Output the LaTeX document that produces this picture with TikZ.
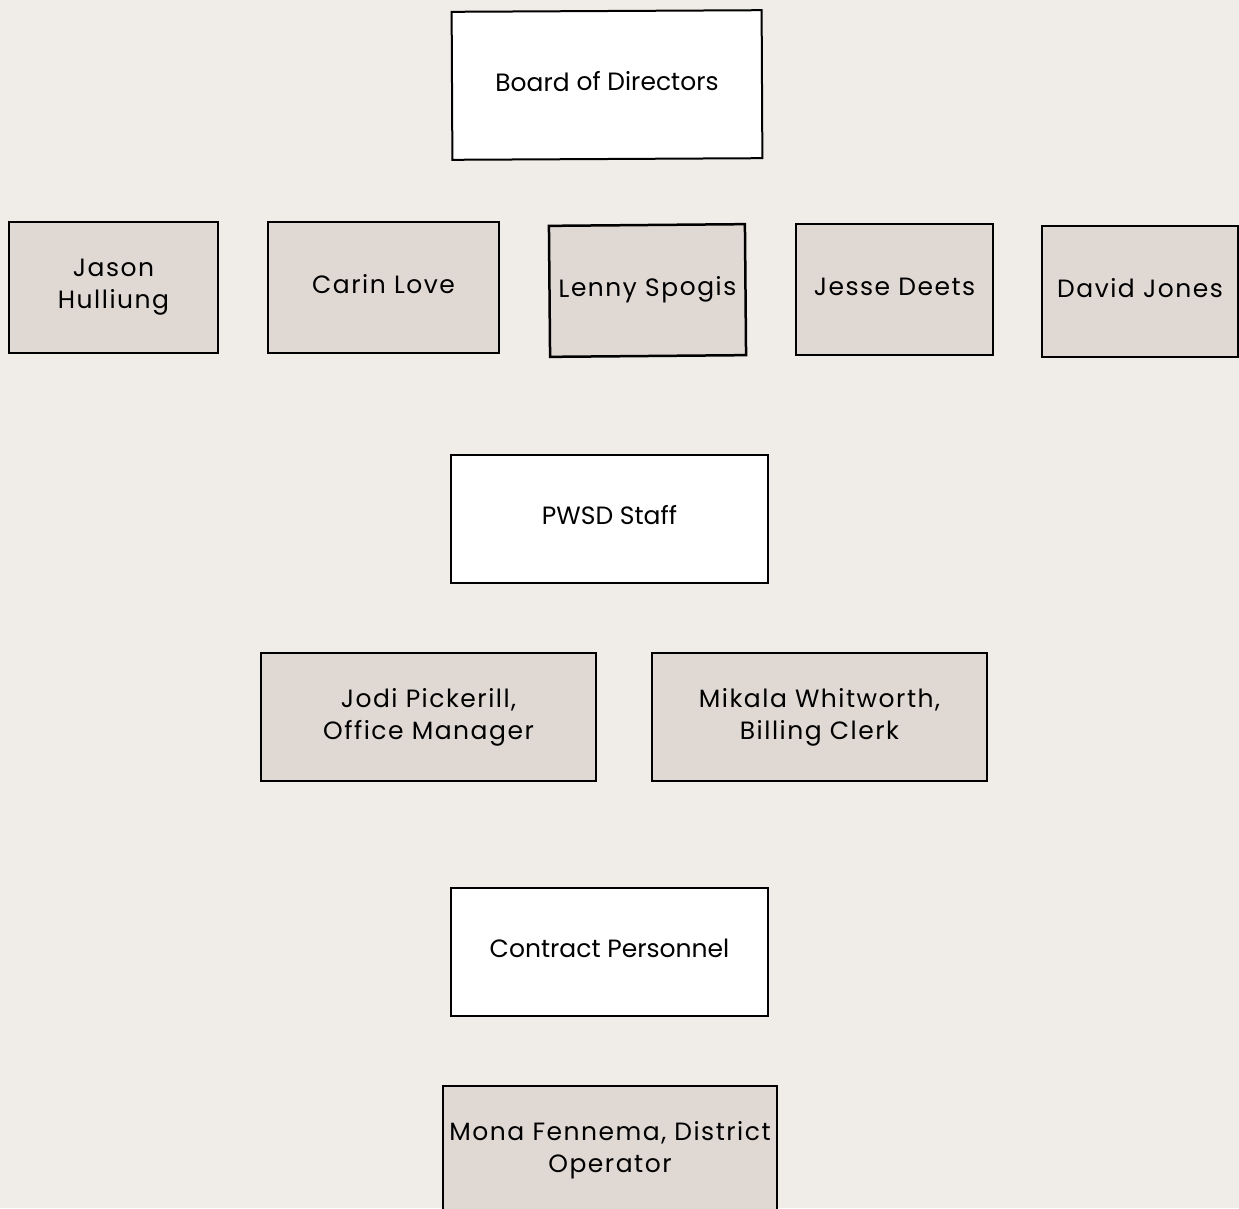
\documentclass[tikz,border=0pt]{standalone}
\usepackage{fontspec}
\setmainfont{Poppins}
\usepackage{tikz}
\usetikzlibrary{positioning}
\definecolor{pagebg}{HTML}{F0ECE8}
\definecolor{namefill}{HTML}{E0D8D3}
\tikzstyle{header} = [rectangle, draw, line width=2pt, fill=white, align=center,
    inner sep=0pt, text height=18pt, text depth=6.5pt, font=\fontsize{25}{32}\selectfont]
\tikzstyle{member} = [rectangle, draw, line width=2.5pt, fill=namefill, align=center,
    inner sep=0pt, font=\fontsize{25}{32}\selectfont\addfontfeature{LetterSpace=6}]
\tikzstyle{oneline} = [text height=18pt, text depth=6.5pt]

\begin{document}
\begin{tikzpicture}[x=1pt, y=-1pt]
        \useasboundingbox[fill=pagebg] (0,0) rectangle (1239,1208);

        % board
        \node[header, minimum width=310pt, minimum height=148pt, rotate=0.3] (board) at (607,85) {Board of Directors};

        % members
        \node[member, minimum width=209pt, minimum height=131pt] (jason) at (113.5,287.5) {Jason\\Hulliung};
        \node[member, oneline, minimum width=231pt, minimum height=131pt] (carin) at (383.5,287.5) {Carin Love};
        \node[member, oneline, minimum width=196pt, minimum height=131pt, rotate=0.5] (lenny) at (647.5,290.5) {Lenny Spogis};
        \node[member, oneline, minimum width=197pt, minimum height=131pt] (jesse) at (894.5,289.5) {Jesse Deets};
        \node[member, oneline, minimum width=196pt, minimum height=131pt] (david) at (1140,291.5) {David Jones};

        % staff
        \node[header, minimum width=317pt, minimum height=128pt] (staff) at (609.5,519) {PWSD Staff};
        \node[member, minimum width=335pt, minimum height=128pt] (jodi) at (428.5,717) {Jodi Pickerill,\\Office Manager};
        \node[member, minimum width=335pt, minimum height=128pt] (mikala) at (819.5,717) {Mikala Whitworth,\\Billing Clerk};

        % contract
        \node[header, minimum width=317pt, minimum height=128pt] (contract) at (609.5,952) {Contract Personnel};
        \node[member, minimum width=334pt, minimum height=128pt] (mona) at (610,1150) {Mona Fennema, District\\Operator};
    \end{tikzpicture}
\end{document}
